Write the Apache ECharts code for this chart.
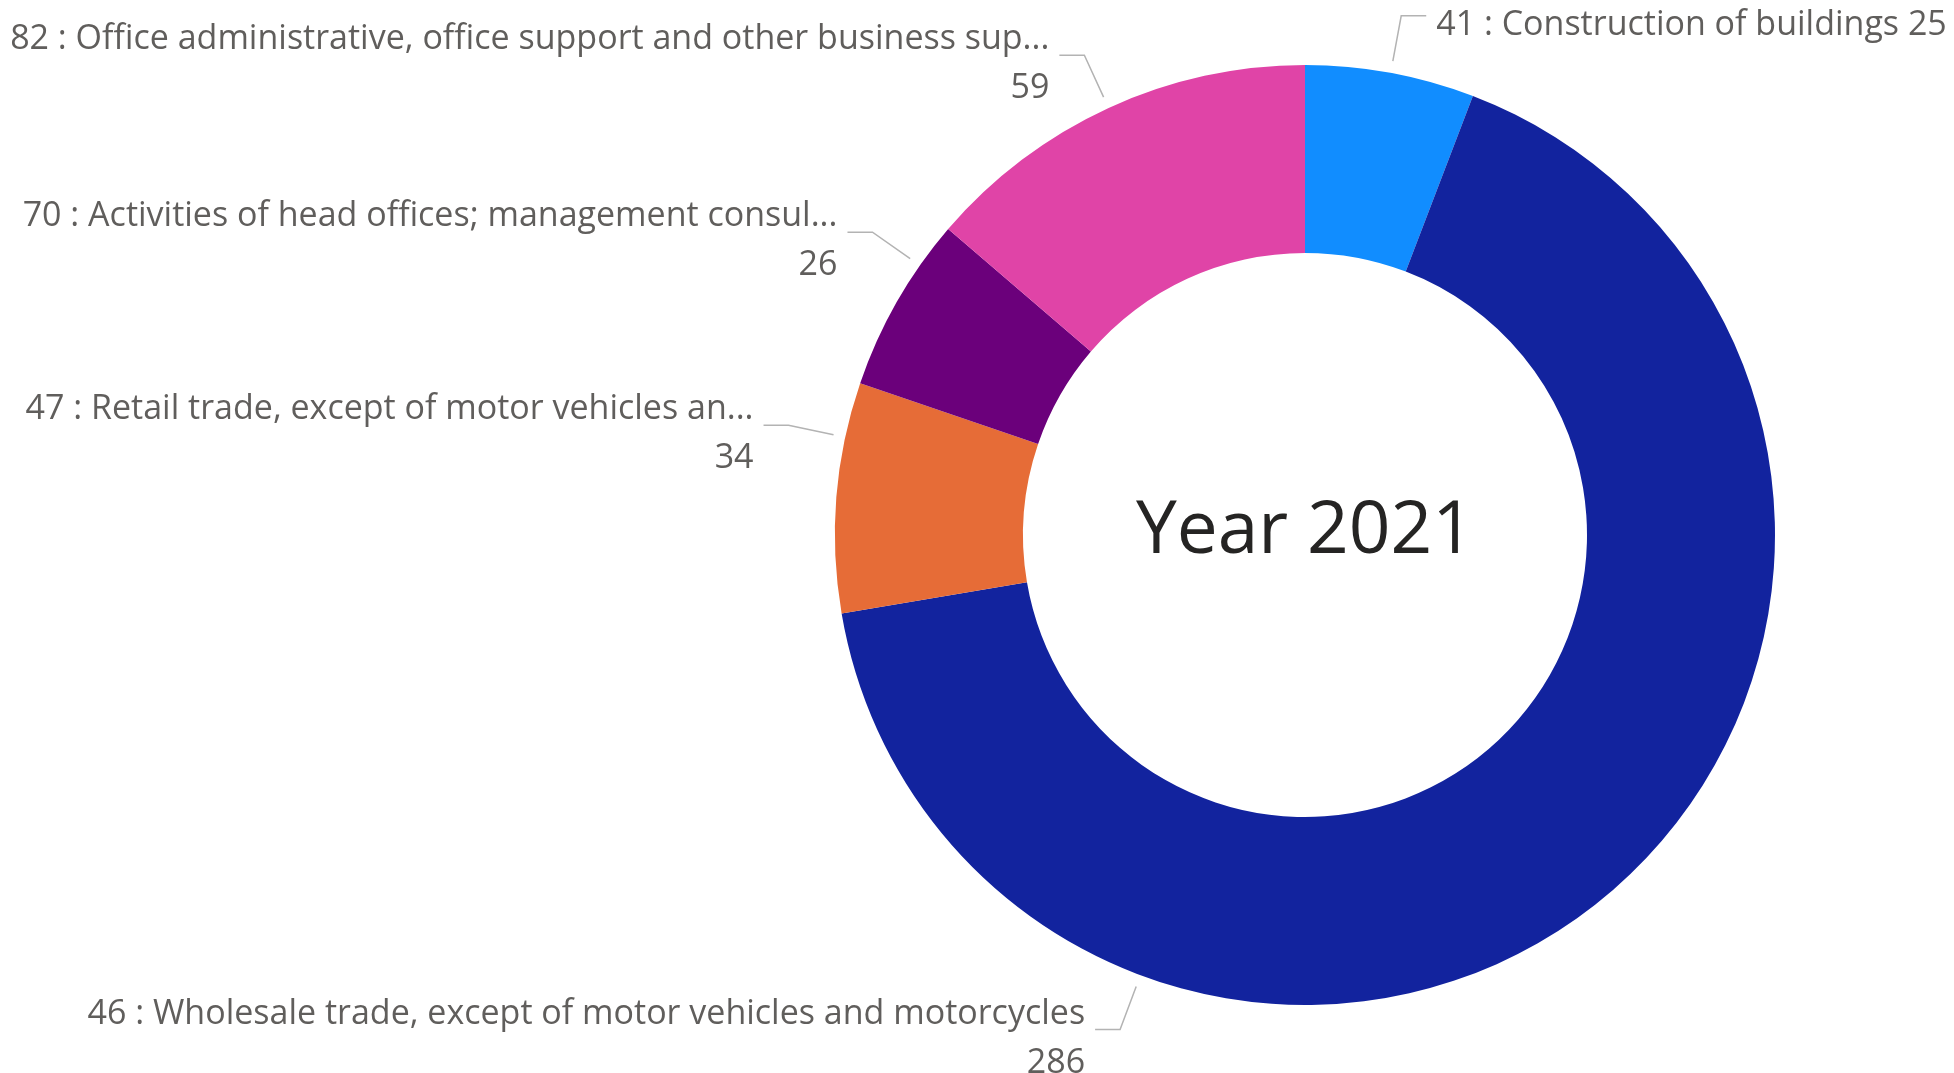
<!DOCTYPE html>
<html>
<head>
<meta charset="utf-8">
<title>Year 2021</title>
<script src="https://cdn.jsdelivr.net/npm/echarts@6/dist/echarts.min.js"></script>
<style>
  html, body { margin: 0; padding: 0; background: #fff; }
  #chart { width: 1954px; height: 1073px; }
</style>
</head>
<body>
<div id="chart"></div>
<script>
// data
const codes = ['41', '46', '47', '70', '82']
const names = [
  'Construction of buildings',
  'Wholesale trade, except of motor vehicles and motorcycles',
  'Retail trade, except of motor vehicles an...',
  'Activities of head offices; management consul...',
  'Office administrative, office support and other business sup...'
]
const values = [25, 286, 34, 26, 59]
const colors = ['#118DFF', '#12239E', '#E66C37', '#6B007B', '#E044A7']
const centerText = 'Year 2021'

// ring geometry (px)
const CX = 1305, CY = 535, R_IN = 282, R_OUT = 470
// where each leader line meets the ring, degrees clockwise from 12 o'clock
const labelAngles = [10.5, 200.5, 282, 305, 335.3]

const chart = echarts.init(document.getElementById('chart'))

function leaderLayout(params) {
  const a = labelAngles[params.dataIndex] * Math.PI / 180
  const dx = Math.sin(a), dy = -Math.cos(a)
  const p1 = [CX + dx * (R_OUT + 12), CY + dy * (R_OUT + 12)]
  const p2 = [CX + dx * (R_OUT + 58), CY + dy * (R_OUT + 58)]
  const side = dx >= 0 ? 1 : -1
  const p3 = [p2[0] + side * 25, p2[1]]
  return {
    x: p3[0] + side * 10,
    y: p3[1] + 9,
    align: side > 0 ? 'left' : 'right',
    verticalAlign: 'middle',
    labelLinePoints: [p1, p2, p3]
  }
}

chart.setOption({
  animation: false,
  color: colors,
  graphic: [{
    type: 'text',
    x: CX,
    y: CY - 3,
    style: {
      text: centerText,
      fill: '#252423',
      font: '73px "Segoe UI", "Open Sans", sans-serif',
      textAlign: 'center',
      textVerticalAlign: 'middle'
    }
  }],
  series: [{
    type: 'pie',
    center: [CX, CY],
    radius: [R_IN, R_OUT],
    startAngle: 90,
    clockwise: true,
    avoidLabelOverlap: false,
    silent: true,
    label: {
      show: true,
      position: 'outside',
      color: '#605E5C',
      fontFamily: '"Segoe UI", "Open Sans", sans-serif',
      fontSize: 34,
      lineHeight: 49,
      formatter: p => codes[p.dataIndex] + ' : ' + p.name +
        (p.dataIndex === 0 ? ' ' : '\n') + p.value
    },
    labelLine: {
      show: true,
      lineStyle: { color: '#B3B3B3', width: 1.5 }
    },
    labelLayout: leaderLayout,
    data: values.map((v, i) => ({ name: names[i], value: v }))
  }]
})
</script>
</body>
</html>
